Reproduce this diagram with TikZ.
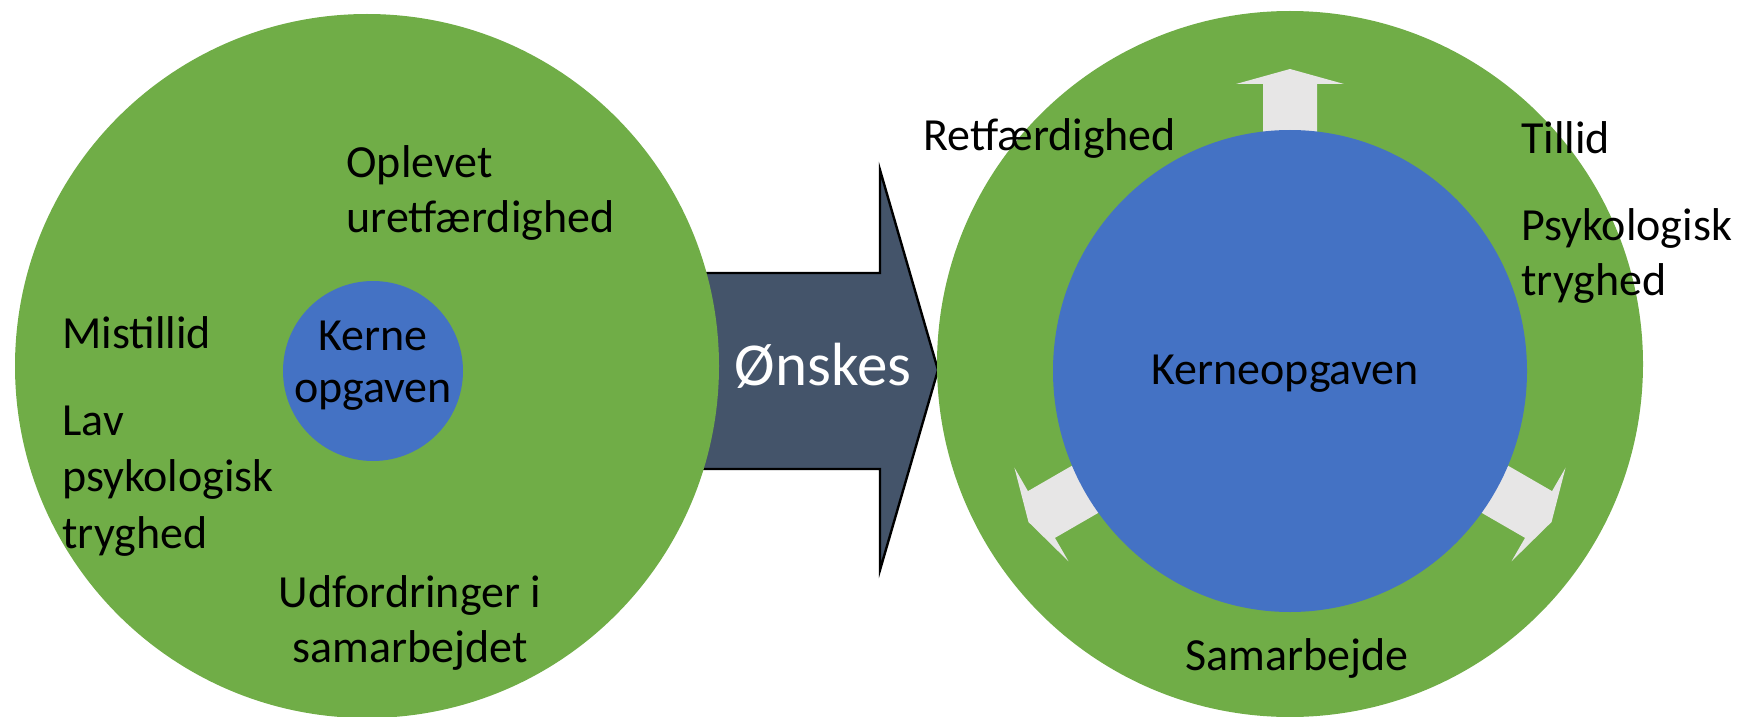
\documentclass[tikz,border=0pt]{standalone}
\usepackage{fontspec}
\setmainfont{Carlito}
\definecolor{ringgreen}{HTML}{70AD47}
\definecolor{coreblue}{HTML}{4472C4}
\definecolor{slate}{HTML}{44546A}
\definecolor{pale}{HTML}{E7E6E6}
% small outward arrow sitting on the core circle: #1 centre, #2 direction
\newcommand{\ringarrow}[2]{%
  \begin{scope}[shift={(#1)}, rotate=#2]
    \fill[pale] (236,-27) -- (287,-27) -- (287,-54) -- (302,0)
      -- (287,54) -- (287,27) -- (236,27) -- cycle;
  \end{scope}}
\begin{document}
\begin{tikzpicture}[x=0.5pt, y=0.5pt,
  % multi-line labels are placed by the baseline of their last line
  lbl/.style={inner sep=0, font=\fontsize{23}{27.5}\selectfont, align=left, anchor=base west},
  clbl/.style={lbl, align=center, anchor=base},
  ring/.style={fill=ringgreen},
  core/.style={fill=coreblue}]
\useasboundingbox (0,0) rectangle (1746,-717);

% big transition arrow
\draw[fill=slate, line width=1.2pt, line join=miter]
  (690,-273) -- (880,-273) -- (880,-170) -- (938,-370)
  -- (880,-570) -- (880,-469) -- (690,-469) -- cycle;

% left: current state
\coordinate (lc) at (367,-366);
\fill[ring] (lc) circle [radius=176pt];
\fill[core] (373,-371) circle [radius=45pt];

% right: desired state
\coordinate (rc) at (1290,-364);
\coordinate (kc) at (1290,-371);
\fill[ring] (rc) circle [radius=176.5pt];
\ringarrow{kc}{90}
\ringarrow{kc}{-30}
\ringarrow{kc}{210}
\fill[core] (kc) ellipse [x radius=118.5pt, y radius=120.5pt];

% texts
\node[clbl, font=\fontsize{30.5}{36}\selectfont, text=white] (wish) at (823,-385) {Ønskes};

\node[clbl, font=\fontsize{23}{26}\selectfont] (kl) at (373,-402) {Kerne\\opgaven};
\node[lbl] (oplev) at (346,-232) {Oplevet\\uretfærdighed};
\node[lbl] (mist) at (62,-348) {Mistillid};
\node[lbl, font=\fontsize{23}{28.2}\selectfont] (lav) at (62,-548) {Lav\\psykologisk\\tryghed};
\node[clbl] (udf) at (410,-662) {Udfordringer i\\samarbejdet};

\node[clbl] (kr) at (1285,-384) {Kerneopgaven};
\node[lbl] (ret) at (923,-150) {Retfærdighed};
\node[lbl] (till) at (1521,-154) {Tillid};
\node[lbl] (psyk) at (1521,-295) {Psykologisk\\tryghed};
\node[clbl] (sam) at (1297,-670) {Samarbejde};
\end{tikzpicture}
\end{document}
